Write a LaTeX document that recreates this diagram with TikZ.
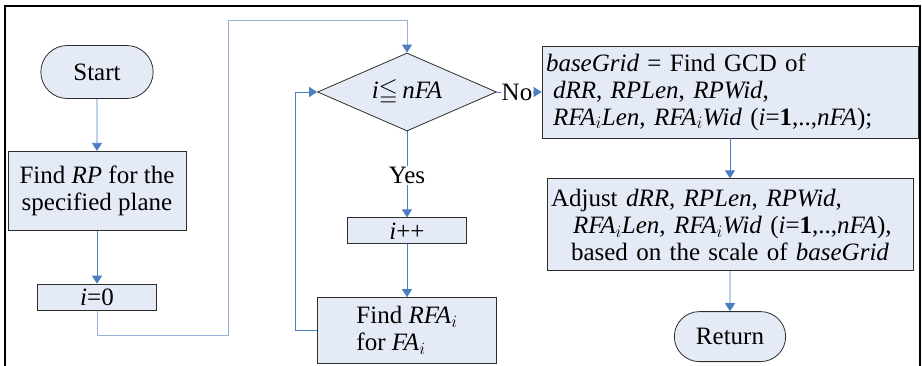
\documentclass[tikz,border=0pt]{standalone}
\usepackage{amssymb}
\usepackage{fontspec}
\setmainfont{Liberation Serif}
\usetikzlibrary{shapes.geometric, shapes.misc, arrows.meta, positioning}
\definecolor{flowblue}{RGB}{74,126,193}
\definecolor{flowlight}{RGB}{149,179,215}
\definecolor{boxfill}{RGB}{229,235,246}
\definecolor{boxline}{RGB}{45,45,45}
\tikzset{
  block/.style={rectangle, draw=boxline, fill=boxfill, line width=0.8pt,
    align=center, inner sep=2pt, font=\fontsize{25}{27}\selectfont},
  wideblock/.style={block, align=left, inner xsep=4pt},
  term/.style={rounded rectangle, draw=boxline, fill=boxfill, line width=0.8pt,
    align=center, font=\fontsize{25}{27}\selectfont},
  decide/.style={diamond, draw=boxline, fill=boxfill, line width=0.8pt, aspect=2.3,
    inner sep=0pt, minimum width=179pt, minimum height=78pt, font=\fontsize{25}{27}\selectfont},
  arr/.style={-{Triangle[length=8pt,width=10pt]}, line width=0.8pt, flowblue},
  arrlight/.style={-{Triangle[length=8pt,width=10pt,color=flowblue]}, line width=1pt, flowlight},
  tag/.style={fill=white, text=black, inner sep=1pt, font=\fontsize{25}{27}\selectfont},
  frame/.style={line width=2pt, black},
}

\begin{document}
\begin{tikzpicture}[x=1pt, y=-1pt]
  \useasboundingbox (0,0) rectangle (922,365);
  \draw[frame] (5,366) -- (5,6) -- (920,6) -- (920,366);

  % left column
  \node[term, minimum width=119pt, minimum height=53pt] (start) at (97,72) {Start};
  \node[block, below=52pt of start, minimum width=178pt, minimum height=79pt] (findrp)
    {Find \textit{RP} for the\\specified plane};
  \node[block, below=53pt of findrp, minimum width=119pt, minimum height=26pt] (init)
    {\textit{i}=0};

  % loop
  \node[decide] (test) at (407,92) {\textit{i}$\leqq$\,\textit{nFA}};
  \node[block, below=86pt of test, minimum width=119pt, minimum height=26pt] (inc)
    {\textit{i}++};
  \node[block, below=53pt of inc, minimum width=179pt, minimum height=66pt, align=left] (findrfa)
    {Find \textit{RFA}$_i$\\for \textit{FA}$_i$};

  % right column
  \node[wideblock, text width=368pt, minimum height=92pt] (gcd) at (730,92)
    {\textit{baseGrid} = Find GCD of\\
     \hspace*{7pt}\textit{dRR}, \textit{RPLen}, \textit{RPWid},\\
     \hspace*{7pt}\textit{RFA}$_i$\textit{Len}, \textit{RFA}$_i$\textit{Wid} (\textit{i}=\textbf{1},..,\textit{nFA});};
  \node[wideblock, below=40pt of gcd, text width=358pt, minimum height=92pt] (adjust)
    {Adjust \textit{dRR}, \textit{RPLen}, \textit{RPWid},\\
     \hspace*{22pt}\textit{RFA}$_i$\textit{Len}, \textit{RFA}$_i$\textit{Wid} (\textit{i}=\textbf{1},..,\textit{nFA}),\\
     \hspace*{20pt}based on the scale of \textit{baseGrid}};
  \node[term, below=40pt of adjust, minimum width=118pt, minimum height=50pt] (return) {Return};

  \coordinate (down) at (228,335);
  \coordinate (over) at (228,20);
  \coordinate (back) at (295,92);

  \draw[arr] (start) -- (findrp);
  \draw[arr] (findrp) -- (init);
  \draw[arrlight] (init.south) |- (down) -- (over) -| (test.north);
  \draw[arr] (test.east) -- node[tag, pos=0.45]{No} (gcd.west);
  \draw[arr] (test.south) -- node[tag, pos=0.51]{Yes} (inc.north);
  \draw[arr] (inc) -- (findrfa);
  \draw[arr] (findrfa.west) -| (back) -- (test.west);
  \draw[arr] (gcd) -- (adjust);
  \draw[arr] (adjust) -- (return);
\end{tikzpicture}
\end{document}
